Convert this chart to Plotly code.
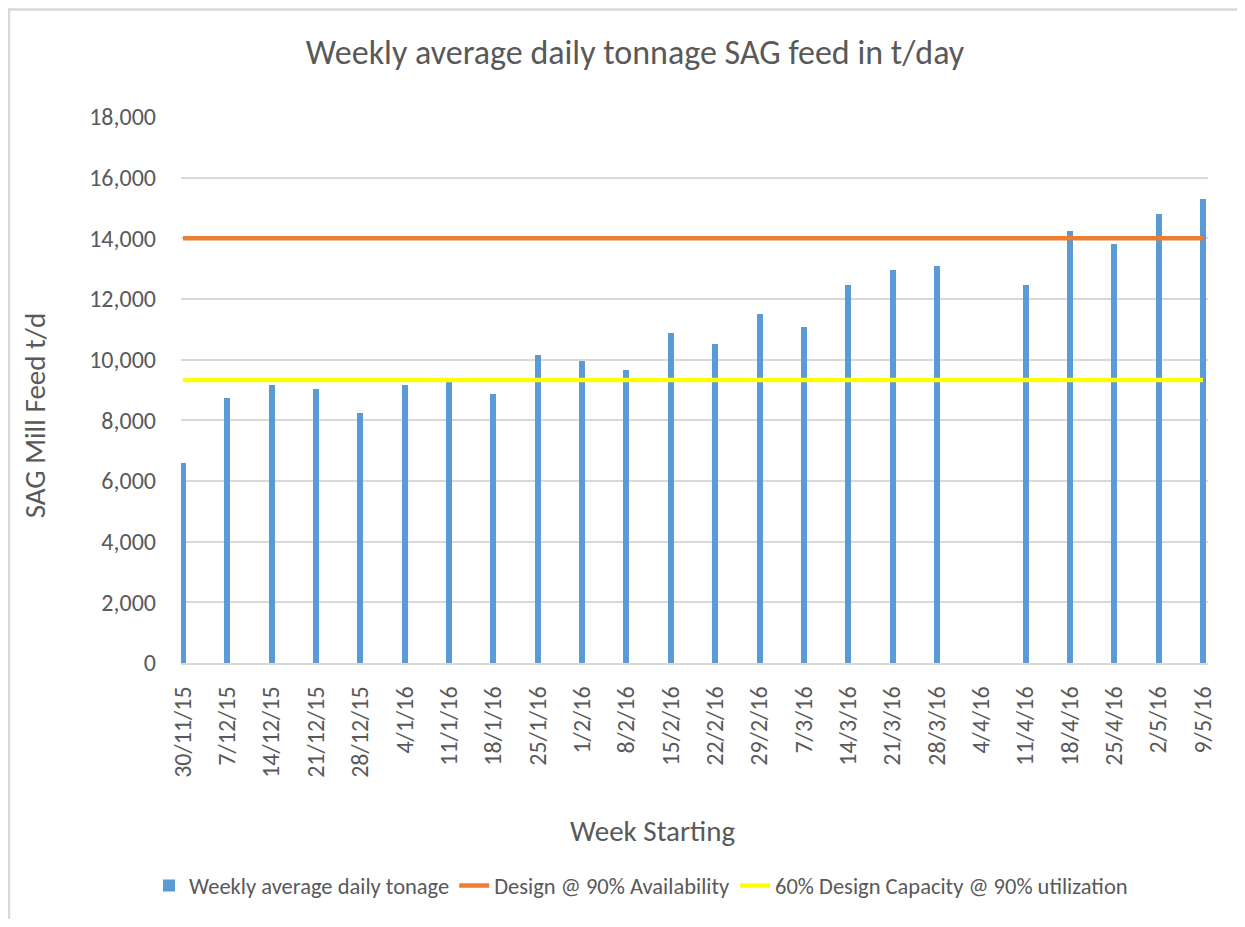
import plotly.graph_objects as go

week_labels = ["30/11/15", "7/12/15", "14/12/15", "21/12/15", "28/12/15", "4/1/16", "11/1/16",
               "18/1/16", "25/1/16", "1/2/16", "8/2/16", "15/2/16", "22/2/16", "29/2/16",
               "7/3/16", "14/3/16", "21/3/16", "28/3/16", "4/4/16", "11/4/16", "18/4/16",
               "25/4/16", "2/5/16", "9/5/16"]
weekly_tonnage = [6600, 8750, 9180, 9030, 8240, 9180, 9250, 8880, 10160, 9950, 9650, 10880,
                  10510, 11520, 11090, 12450, 12950, 13090, None, 12450, 14230, 13810, 14810, 15310]
design_90 = 14000
design_60 = 9333

y_ticks = [0, 2000, 4000, 6000, 8000, 10000, 12000, 14000, 16000, 18000]

FONT = "Calibri, Carlito, Lato, sans-serif"
GREY = "#595959"

# page has an 8px body margin; figure coordinates = page coordinates - 8
OFF = 8
W, H = 1229, 911
L = 181 - OFF
T = 117 - OFF
R = W - (1208 - OFF)
B = H - (666 - OFF)
pw, ph = W - L - R, H - T - B


def px(x):
    return (x - OFF - L) / pw


def py(y):
    return (H - B - (y - OFF)) / ph


fig = go.Figure()
fig.add_trace(go.Bar(x=week_labels, y=weekly_tonnage, name="Weekly average daily tonage",
                     marker=dict(color="#5B9BD5", line=dict(width=0)), width=0.135))
fig.add_trace(go.Scatter(x=week_labels, y=[design_90] * len(week_labels), mode="lines",
                         name="Design @ 90% Availability",
                         line=dict(color="#ED7D31", width=4.5)))
fig.add_trace(go.Scatter(x=week_labels, y=[design_60] * len(week_labels), mode="lines",
                         name="60% Design Capacity @ 90% utilization",
                         line=dict(color="#FFFF00", width=4.5)))

fig.update_layout(
    width=W, height=H,
    margin=dict(l=L, r=R, t=T, b=B),
    paper_bgcolor="white", plot_bgcolor="white",
    font=dict(family=FONT, color=GREY),
    title=dict(text="Weekly average daily tonnage SAG feed in t/day",
               x=(635 - OFF) / W, xref="container",
               y=1 - (52 - OFF) / H, yanchor="middle", xanchor="center",
               font=dict(size=34, color=GREY, family=FONT)),
    showlegend=True,
    legend=dict(orientation="h", x=px(641), xanchor="center", y=py(890), yanchor="middle",
                font=dict(size=22.5, color=GREY, family=FONT), traceorder="normal"),
    bargap=0,
    xaxis=dict(type="category", range=[-0.045, 23.113], showgrid=False,
               showline=True, linecolor="#D9D9D9", linewidth=1.5,
               tickangle=-90, tickfont=dict(size=24, color=GREY, family=FONT),
               ticks="", ticklabelstandoff=12),
    yaxis=dict(range=[0, 18000], tickvals=y_ticks, tickformat=",d",
               showgrid=True, gridcolor="#D9D9D9", gridwidth=1.5,
               zeroline=False, showline=False, ticks="",
               tickfont=dict(size=24, color=GREY, family=FONT), ticklabelstandoff=24),
    annotations=[
        dict(text="SAG Mill Feed t/d", x=px(35), y=py(417), xref="paper", yref="paper",
             textangle=-90, showarrow=False, font=dict(size=29, color=GREY, family=FONT),
             xanchor="center", yanchor="middle"),
        dict(text="Week Starting", x=px(652), y=py(835), xref="paper", yref="paper",
             showarrow=False, font=dict(size=29, color=GREY, family=FONT),
             xanchor="center", yanchor="middle"),
    ],
    shapes=[
        dict(type="line", xref="paper", yref="paper", x0=px(8), x1=px(1300), y0=py(9), y1=py(9),
             line=dict(color="#D9D9D9", width=2.5)),
        dict(type="line", xref="paper", yref="paper", x0=px(9), x1=px(9), y0=py(8), y1=py(1000),
             line=dict(color="#D9D9D9", width=2.5)),
    ],
)

fig.write_html("out.html")
